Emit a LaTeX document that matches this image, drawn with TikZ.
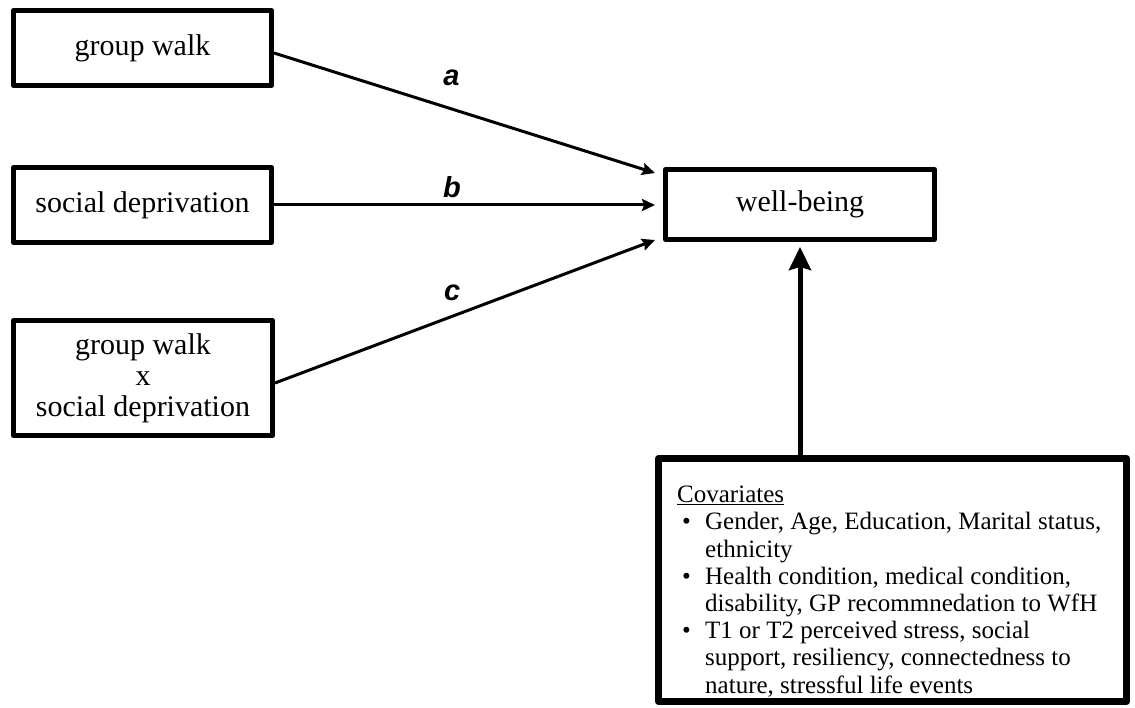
\documentclass[tikz,border=0pt]{standalone}
\usepackage{fontspec}
\setmainfont{Liberation Serif}
\newfontfamily\labelfont{Liberation Sans}
\usetikzlibrary{arrows.meta,calc}

\tikzset{
  varbox/.style={draw=black, line width=5pt, line join=round, fill=white, inner sep=0pt,
    minimum width=258pt, minimum height=75pt, align=center,
    font=\fontsize{30}{31}\selectfont},
  covbox/.style={draw=black, line width=7pt, line join=round, fill=white, inner sep=0pt,
    minimum width=468pt, minimum height=243pt},
  path/.style={line width=3pt, -{Stealth[length=13pt,width=12pt,inset=2pt]}},
  bigpath/.style={line width=5pt, -{Stealth[length=23pt,width=22pt,inset=3pt]}},
  pathlabel/.style={font=\labelfont\bfseries\itshape\fontsize{29}{30}\selectfont, inner sep=0pt}
}

\begin{document}
\begin{tikzpicture}[x=1pt, y=-1pt]
  \useasboundingbox (0,0) rectangle (1135,708);

  % predictors
  \node[varbox] (walk) at (142.5,48) {group walk};
  \node[varbox] (dep)  at (142.5,205) {social deprivation};
  \node[varbox, minimum width=259pt, minimum height=115pt] (inter) at (143,378)
    {group walk\\x\\social deprivation};

  % outcome
  \node[varbox, minimum width=269pt, minimum height=70pt] (wb) at (800,204.5) {well-being};

  % covariates
  \node[covbox] (cov) at (892.5,580) {};
  \node[anchor=north west, inner sep=0pt, align=left,
        font=\fontsize{25}{27.2}\selectfont] (covtext) at (677,486)
    {\underline{Covariates}\\
     \hspace*{5pt}\makebox[23pt][l]{•}Gender, Age, Education, Marital status,\\
     \hspace*{28pt}ethnicity\\
     \hspace*{5pt}\makebox[23pt][l]{•}Health condition, medical condition,\\
     \hspace*{28pt}disability, GP recommnedation to WfH\\
     \hspace*{5pt}\makebox[23pt][l]{•}T1 or T2 perceived stress, social\\
     \hspace*{28pt}support, resiliency, connectedness to\\
     \hspace*{28pt}nature, stressful life events};

  % paths
  \draw[path] ($(walk.east)+(0,5)$) -- ($(wb.north west)+(-8,6)$)
    node[pathlabel, pos=0.466, yshift=31pt] (la) {a};
  \draw[path] (dep.east) -- ($(wb.west)+(-8,0.5)$)
    node[pathlabel, pos=0.467, yshift=18pt] (lb) {b};
  \draw[path] ($(inter.east)+(0,5)$) -- ($(wb.south west)+(-8,-2)$)
    node[pathlabel, pos=0.466, yshift=24pt] (lc) {c};
  \draw[bigpath, shorten >=5pt] (cov.north -| wb.south) -- (wb.south);
\end{tikzpicture}
\end{document}
